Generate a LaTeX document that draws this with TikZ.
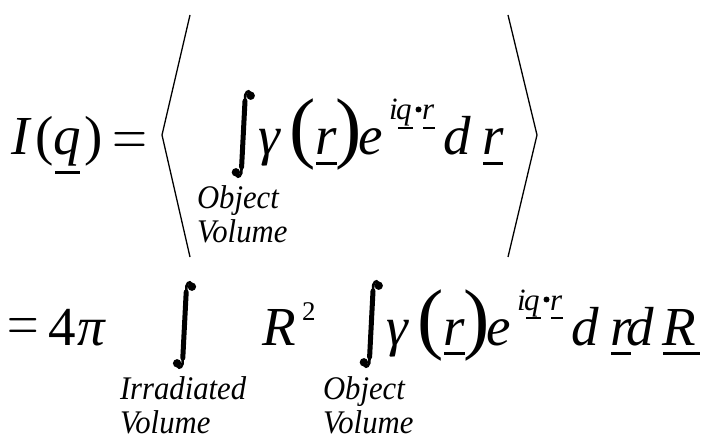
\documentclass[tikz,border=0pt]{standalone}
\usepackage{graphicx}
\usepackage{fontspec}
\setmainfont{Liberation Serif}
\begin{document}
\begin{tikzpicture}[x=1pt,y=-1pt,
  every node/.style={inner sep=0pt,outer sep=0pt,anchor=base west},
  big/.style={font=\fontsize{55}{60}\selectfont\itshape},
  bigup/.style={font=\fontsize{55}{60}\selectfont},
  paren/.style={font=\fontsize{79}{84}\selectfont},
  supf/.style={font=\fontsize{31}{33}\selectfont\itshape},
  lab/.style={font=\fontsize{33}{36}\selectfont\itshape,xscale=0.93,transform shape},
  ulthick/.style={line width=3pt},
  ulthin/.style={line width=2pt},
  bracket/.style={line width=1.3pt,line join=miter},
  bigint/.pic={
    \draw[line width=2.6pt] (7.4,-38.3) .. controls (7.4,-43.5) and (3.6,-44.5) .. (2,-39)
      -- (-2,39)
      .. controls (-3.6,44.5) and (-7.4,43.5) .. (-7.4,38.3);
    \draw[line width=5pt,line cap=round] (1.7,-33) -- (-1.7,33);
    \fill (7.4,-38.3) circle (4.2);
    \fill (-7.4,38.3) circle (4.2);
  }]
\useasboundingbox (0,0) rectangle (711,446);
\fill[white] (0,0) rectangle (711,446);

% ---------- line 1 ----------
\node[big]   (I)  at (11,155)   {I};
\node[bigup] (lp) at (35,155)  {(};
\node[big]   (q)  at (53,155)  {q};
\node[bigup] (rp) at (84,155)  {)};
\node        (eq1) at (112.5,155) {\scalebox{4.5}[6]{$=$}};
\draw[ulthick] (55,173) -- (80,173);

\draw[bracket] (190,15) -- (162,135) -- (190,257);
\draw[bracket] (508,15) -- (537,135) -- (508,257);

\node[lab] (ob1) at (197,209) {Object};
\node[lab] (vo1) at (197,242) {Volume};

\newcommand{\integrand}[1]{%
\begin{scope}[shift={#1}]
\pic at (243.3,134) {bigint};
\node[big]   at (258,155) {γ};
\node[paren] at (289,154) {(};
\node[big]   at (315,155) {r};
\node[paren] at (335,154) {)};
\node[big]   at (358,155) {e};
\node[supf]  at (389,120) {i};
\node[supf]  at (396,120) {q};
\fill (418.5,109.5) circle (3);
\node[supf]  at (422,120) {r};
\draw[ulthin] (398,128) -- (413,128);
\draw[ulthin] (423,128) -- (435,128);
\node[big]   at (443,155) {d};
\node[big]   at (482,155) {r};
\draw[ulthick] (316,163.5) -- (337,163.5);
\draw[ulthick] (483,163.5) -- (503,163.5);
\end{scope}}

\integrand{(0,0)}

% ---------- line 2 ----------
\node        (eq2) at (7.7,340) {\scalebox{4.05}[6]{$=$}};
\node[bigup] (four) at (48,345) {4};
\node[big]   (pi) at (77,345)  {π};
\pic at (184.5,325) {bigint};
\node[big]   (R1) at (262,345) {R};
\node[font=\fontsize{27}{30}\selectfont] (two) at (302,320) {2};
\node[lab] (irr) at (120,399) {Irradiated};
\node[lab] (vo2) at (120,433) {Volume};
\node[lab] (ob2) at (323,399) {Object};
\node[lab] (vo3) at (323,433) {Volume};

\integrand{(128,190)}

\node[big] (d2) at (626,345) {d};
\node[big] (R2) at (662,345) {R};
\draw[ulthick] (663,353.5) -- (700,353.5);
\end{tikzpicture}
\end{document}
